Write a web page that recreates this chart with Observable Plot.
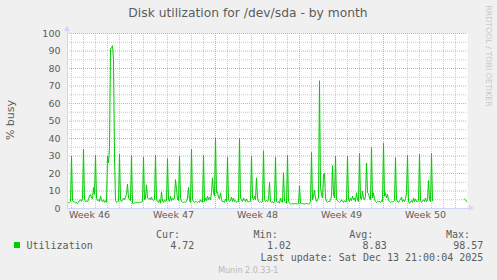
<!DOCTYPE html>
<html><head><meta charset="utf-8">
<script src="https://cdn.jsdelivr.net/npm/d3@7"></script>
<script src="https://cdn.jsdelivr.net/npm/@observablehq/plot@0.6"></script>
<style>
html,body{margin:0;padding:0;background:#F0F0F0;}
svg{display:block;}
</style></head><body><div id="chart"></div>
<script>
const title = "Disk utilization for /dev/sda - by month";
const yLabel = "% busy";
const seriesName = "Utilization";
const startTime = Date.UTC(2025, 10, 11, 16, 0, 0);
const endTime = Date.UTC(2025, 11, 15, 0, 0, 0);
const stepHours = 2;
const busy = [
  3.5, 3.2, 3.4, 4, 30, 4.5, 4, 3.8, 3.2, 3.5,
  2.8, 3.5, 4.5, 5, 4, 5.5, 34, 5, 4, 4.2,
  4, 5, 7.5, 8, 6, 5.5, 12, 8, 30.5, 6,
  4.5, 5, 4, 7, 4.5, 4, 5, 3.5, 4.5, 3.5,
  30, 26, 35, 91, 92, 93, 85, 30, 4.5, 3.5,
  4, 4.2, 31, 5, 4, 5, 6, 5, 6.5, 8,
  14, 6, 5, 4.5, 30.5, 3, 2.8, 3.2, 3.3, 3.5,
  3.4, 3.4, 3.5, 3.6, 3.8, 4, 29.5, 5, 6, 13.5,
  6, 5.5, 6, 5, 6.5, 5, 4.5, 5, 30.5, 5,
  4, 3.5, 5, 3, 9.5, 4, 3.5, 5, 4, 4.5,
  28.5, 5, 4, 7, 4.5, 6, 5, 6, 16.5, 11,
  5, 4.5, 30, 6, 4, 3.5, 3.5, 3.8, 3.5, 4,
  6, 12, 5, 3.5, 34, 5, 4, 3.5, 4, 3.8,
  3.5, 4, 3.5, 5, 4, 3.5, 30.5, 4, 6, 4.5,
  7, 5, 6.5, 5, 9, 17.5, 9, 7, 40.5, 9,
  9.5, 6, 5.5, 9, 5, 3.8, 4, 3.5, 5.5, 4,
  29.5, 5, 4, 4.5, 6.5, 4, 6, 4, 4.5, 3.5,
  4, 3.8, 40, 6, 5, 4, 6, 5, 4, 5.5,
  4, 3.8, 4, 4.2, 30, 6, 5, 7, 5, 17.5,
  6, 4, 3.5, 4, 3.5, 4, 33, 5, 4, 4.5,
  4, 5, 15, 4, 3.5, 4, 3, 4, 29.5, 4,
  3.5, 4, 3, 6, 4, 3.5, 20.5, 4, 3.5, 3,
  30.5, 4, 3, 2.5, 2.8, 2.7, 2.6, 2.7, 2.8, 2.7,
  2.6, 2.8, 13, 3, 2.8, 2.7, 2.7, 2.6, 2.7, 2.8,
  2.7, 2.6, 2.8, 4, 32, 5, 7, 10.5, 6, 4,
  5, 6, 73, 12, 8, 6, 19.5, 20, 6, 4,
  3.5, 4, 3.8, 5, 7, 24.5, 8, 6, 30, 5,
  4.5, 4, 3.5, 4, 5, 4, 3.5, 4.5, 3.8, 4,
  30, 5, 4, 6, 4.5, 7, 5, 6, 4, 9,
  5, 4, 31.5, 6, 5, 10, 6, 5, 7, 26,
  9, 8.5, 6, 5, 35, 6, 9, 5, 4, 3.5,
  4, 3.8, 4, 3.5, 4.5, 4, 37.5, 7, 9, 6,
  8, 5, 4, 3.5, 4, 3.8, 4, 4.5, 29, 5,
  4, 3.5, 4.5, 5, 6.5, 4, 5, 4, 5.5, 9,
  30.5, 4, 3, 3.5, 4.5, 3.5, 6, 4, 5.5, 4,
  3.8, 4.5, 31, 4.5, 3.5, 4, 5, 4, 6, 4,
  5, 16, 5, 4, 31.5, 4.5, null, null, null, null,
  null, null, null, null, null, null, null, null, null, null,
  null, null, null, null, null, null, null, null, null, null,
  null, null, null, null, null, null, null, 5.5, 5, 4
];
const yTicks = [0, 10, 20, 30, 40, 50, 60, 70, 80, 90, 100];
const yMinorTicks = [5, 15, 25, 35, 45, 55, 65, 75, 85, 95];
const weekNumbers = [46, 47, 48, 49, 50];
const weekStarts = ["2025-11-10", "2025-11-17", "2025-11-24", "2025-12-01", "2025-12-08"];
const statLabels = ["Cur:", "Min:", "Avg:", "Max:"];
const statValues = ["4.72", "1.02", "8.83", "98.57"];
const lastUpdate = "Last update: Sat Dec 13 21:00:04 2025";
const footer = "Munin 2.0.33-1";
const watermark = "RRDTOOL / TOBI OETIKER";

const rows = busy.map((v, i) => ({t: new Date(startTime + i * stepHours * 3600e3), v}));
const start = new Date(startTime), end = new Date(endTime);
const weekDates = weekStarts.map(s => new Date(s + "T00:00:00Z"));
const weekBounds = weekDates.filter(d => d > start && d < end);
const weekMids = weekDates.map(d => new Date(+d + 3.5 * 864e5));
const dayTicks = d3.utcDay.range(d3.utcDay.ceil(start), end).filter(d => d.getUTCDay() !== 1);

const FONT = "#5c5c5c";
const minorGrid = "#c9c9c9";
const majorGrid = "#e4a4a4";
const axisColor = "#CFD6F8";

const chart = Plot.plot({
  width: 497, height: 280,
  marginLeft: 67, marginRight: 30, marginTop: 33, marginBottom: 72,
  style: {background: "#F0F0F0", fontFamily: "'DejaVu Sans', sans-serif", overflow: "visible"},
  x: {type: "utc", domain: [start, end], axis: null},
  y: {domain: [0, 100], axis: null},
  marks: [
    Plot.frame({fill: "#FFFFFF", stroke: null}),
    Plot.ruleY(yMinorTicks, {stroke: minorGrid, strokeDasharray: "1,1"}),
    Plot.ruleX(dayTicks, {stroke: minorGrid, strokeDasharray: "1,1"}),
    Plot.ruleY(yTicks.filter(d => d > 0), {stroke: majorGrid, strokeDasharray: "1,1"}),
    Plot.ruleX(weekBounds, {stroke: majorGrid, strokeDasharray: "1,1"}),
    Plot.lineY(rows, {x: "t", y: "v", stroke: "#00CC00", strokeWidth: 1}),
    Plot.ruleX([start], {stroke: axisColor, insetTop: -4}),
    Plot.ruleY([0], {stroke: axisColor, insetRight: -3}),
    Plot.text(yTicks, {y: d => d, frameAnchor: "left", dx: -7, textAnchor: "end", fill: FONT, fontSize: 9.5}),
    Plot.text(weekNumbers, {x: (d, i) => weekMids[i], frameAnchor: "bottom", dy: 9, text: d => "Week " + d, fill: FONT, fontSize: 9.5})
  ]
});

const svg = d3.select(chart);
function addText(x, y, str, opts) {
  const t = svg.append("text").attr("x", x).attr("y", y)
    .attr("text-anchor", opts.anchor || "start")
    .attr("font-family", opts.family || "DejaVu Sans")
    .attr("font-size", opts.size || 10)
    .attr("fill", opts.fill || FONT)
    .text(str);
  if (opts.transform) t.attr("x", null).attr("y", null).attr("transform", opts.transform);
  return t;
}
// axis arrows
svg.append("polygon").attr("points", "64,31 70,31 67,25.5").attr("fill", axisColor);
svg.append("polygon").attr("points", "469,205 469,211 474,208").attr("fill", axisColor);
// title
addText(248, 17, title, {anchor: "middle", size: 12.3});
// y label
addText(0, 0, yLabel, {anchor: "middle", size: 11, transform: "translate(13.5,120) rotate(-90)"});
// watermark
addText(0, 0, watermark, {anchor: "middle", size: 7.9, fill: "#c8c8c8", transform: "translate(486,56) rotate(90)"});
// legend
const mono = "'DejaVu Sans Mono', monospace";
svg.append("rect").attr("x", 14).attr("y", 242).attr("width", 6).attr("height", 6).attr("fill", "#00CC00");
addText(26.5, 249.3, seriesName, {family: mono});
const labelRight = [180, 277.7, 373.3, 470];
const valueRight = [194.3, 291, 386.7, 483.3];
statLabels.forEach((s, i) => {
  addText(labelRight[i], 237.5, s, {anchor: "end", family: mono});
  addText(valueRight[i], 249.3, statValues[i], {anchor: "end", family: mono});
});
addText(483.3, 260.7, lastUpdate, {anchor: "end", family: mono});
addText(248.3, 272.5, footer, {anchor: "middle", size: 8, fill: "#b8b8b8"});

document.getElementById("chart").appendChild(chart);
</script></body></html>
